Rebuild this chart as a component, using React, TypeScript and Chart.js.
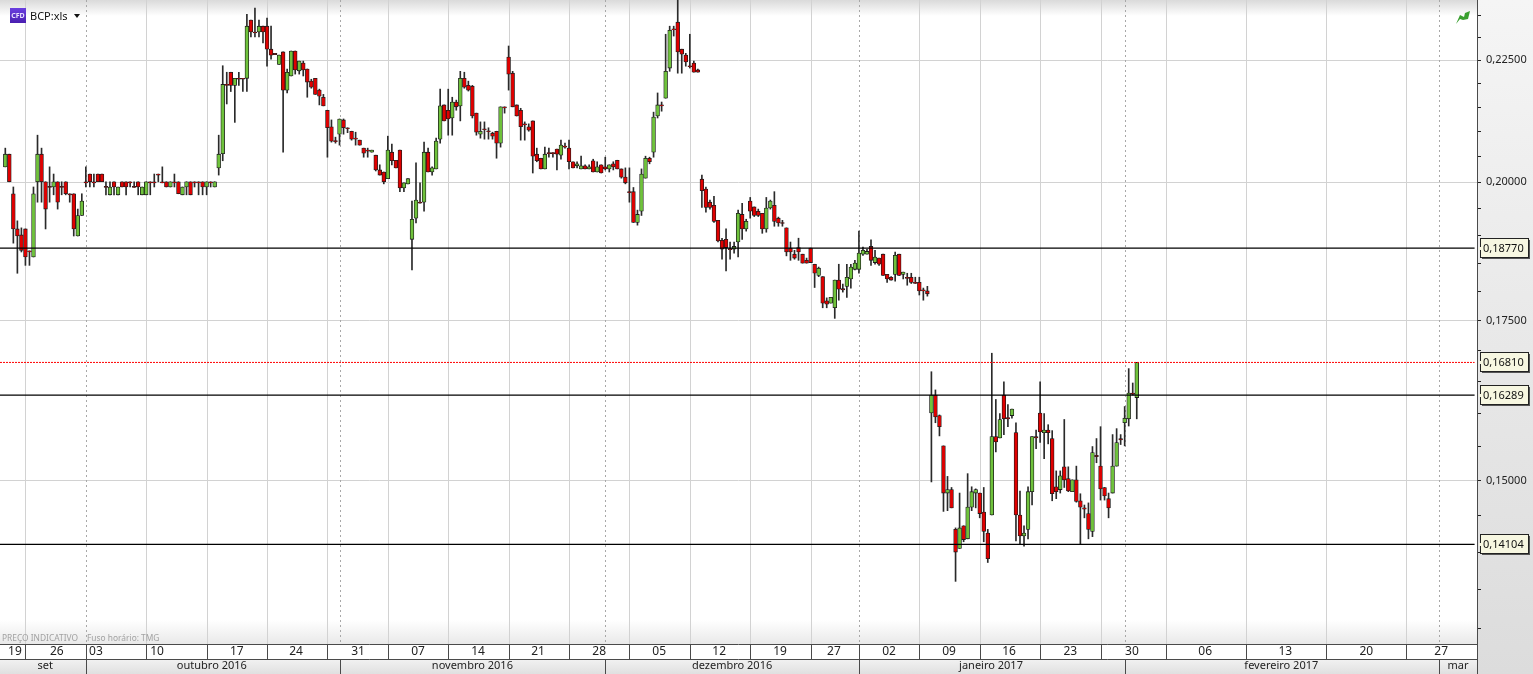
import React, { useEffect, useRef } from "react";
import { Chart, registerables } from "chart.js";

Chart.register(...registerables);

// Prices are in ten-thousandths (2000 = 0,2000).
const opens = [
  2030,2055,1978,1912,1901,1912,1872,1861,2001,2055,
  2001,1992,1991,2001,1992,2001,1978,1978,1899,1937,
  2001,2016,2001,2016,2016,1992,1976,2001,1976,2001,
  2001,2001,1992,2001,1976,1976,2001,2001,2016,2001,
  2001,1991,2001,2001,1976,1991,2001,2001,2001,2001,
  1991,2001,1991,2028,2056,2198,2224,2196,2211,2211,
  2211,2339,2312,2312,2325,2325,2274,2265,2241,2268,
  2186,2216,2270,2227,2244,2231,2205,2211,2186,2171,
  2144,2110,2082,2095,2124,2108,2101,2087,2083,2067,
  2063,2059,2053,2024,2020,2007,2059,2043,2063,1989,
  1997,1893,1932,1962,1962,2059,2020,2026,2085,2155,
  2144,2128,2161,2153,2211,2196,2194,2138,2095,2106,
  2102,2097,2101,2077,2151,2257,2222,2155,2144,2116,
  2110,2122,2055,2047,2026,2058,2058,2065,2053,2071,
  2067,2040,2032,2026,2032,2026,2042,2020,2034,2030,
  2026,2036,2043,2026,2010,1982,1982,1924,1945,2008,
  2047,2059,2132,2155,2169,2233,2319,2334,2274,2261,
  2238,2244,2229,2006,1987,1962,1956,1928,1891,1893,
  1876,1875,1888,1939,1912,1964,1953,1945,1941,1912,
  1951,1956,1932,1924,1914,1877,1866,1878,1866,1855,
  1877,1848,1828,1826,1784,1780,1772,1820,1805,1809,
  1822,1839,1839,1866,1866,1880,1851,1859,1866,1830,
  1825,1830,1866,1830,1825,1825,1816,1816,1803,1801,
  1601,1629,1597,1551,1482,1487,1431,1405,1436,1418,
  1462,1482,1482,1455,1426,1451,1565,1563,1629,1594,
  1597,1571,1451,1422,1431,1484,1565,1601,1571,1575,
  1562,1491,1487,1520,1503,1484,1501,1471,1461,1453,
  1428,1537,1521,1490,1474,1482,1521,1562,1586,1592,1632,1625,
];
const closes = [
  2055,2001,1912,1899,1873,1861,1870,1978,2055,2001,
  1949,1990,2001,1962,1990,1978,1976,1912,1937,1964,
  1999,2001,1999,2001,2001,1990,1991,1991,1991,1991,
  1991,1999,1990,1991,1991,2001,1999,1999,2014,1999,
  1991,2001,1999,1978,1991,2001,1976,1999,1999,1991,
  2001,1999,2001,2055,2198,2196,2196,2211,2209,2209,
  2325,2312,2310,2325,2312,2274,2261,2262,2261,2186,
  2224,2270,2229,2248,2229,2203,2192,2177,2173,2153,
  2108,2081,2080,2126,2108,2106,2085,2085,2073,2057,
  2061,2063,2024,2014,2001,2063,2042,2028,1989,1999,
  2007,1930,1966,1960,2059,2020,2028,2081,2153,2122,
  2126,2161,2151,2211,2192,2186,2132,2099,2101,2104,
  2100,2091,2077,2151,2149,2220,2151,2132,2110,2114,
  2103,2051,2042,2026,2055,2056,2056,2055,2073,2069,
  2040,2028,2036,2032,2026,2030,2020,2030,2018,2026,
  2034,2030,2026,2010,1999,1980,1924,1939,2016,2047,
  2040,2130,2155,2153,2226,2316,2317,2268,2263,2246,
  2236,2224,2224,1984,1952,1952,1926,1890,1875,1878,
  1874,1880,1941,1912,1926,1945,1937,1937,1912,1951,
  1964,1926,1923,1922,1870,1870,1859,1870,1850,1850,
  1851,1832,1841,1780,1778,1790,1820,1804,1803,1825,
  1843,1850,1868,1873,1871,1855,1861,1848,1828,1822,
  1820,1864,1828,1834,1823,1816,1814,1801,1801,1796,
  1629,1595,1580,1482,1487,1461,1400,1433,1417,1462,
  1484,1487,1453,1428,1391,1565,1557,1591,1592,1592,
  1607,1451,1422,1426,1484,1565,1563,1572,1575,1571,
  1481,1484,1507,1501,1485,1501,1470,1462,1459,1431,
  1541,1535,1488,1478,1461,1521,1556,1560,1593,1632,1630,1681,
];
const highs = [
  2067,2055,1991,1927,1914,1912,1872,1991,2093,2067,
  2001,2030,2016,2001,2001,2001,1978,1978,1949,1978,
  2030,2016,2016,2016,2016,2001,2001,2001,1991,2001,
  2001,2001,2001,2001,1991,2001,2001,2016,2016,2030,
  2001,2001,2016,2001,1991,2001,2001,2001,2001,2001,
  2001,2001,2001,2093,2238,2224,2224,2211,2224,2211,
  2352,2339,2366,2339,2325,2343,2325,2265,2261,2268,
  2231,2270,2270,2248,2248,2231,2209,2211,2188,2177,
  2144,2124,2089,2126,2126,2108,2101,2099,2083,2067,
  2067,2063,2053,2034,2020,2091,2075,2043,2063,1999,
  2007,1964,2038,1999,2079,2067,2030,2087,2188,2155,
  2188,2171,2165,2226,2224,2205,2196,2138,2120,2120,
  2108,2099,2101,2151,2151,2281,2226,2155,2148,2120,
  2116,2122,2067,2047,2069,2067,2058,2065,2083,2077,
  2083,2040,2040,2051,2034,2034,2045,2040,2034,2049,
  2034,2040,2043,2026,2028,2028,1990,1947,2026,2051,
  2049,2140,2180,2161,2307,2325,2325,2384,2274,2265,
  2307,2248,2231,2014,1991,1966,1973,1928,1895,1912,
  1888,1888,1947,1960,1930,1971,1953,1949,1941,1971,
  1966,1982,1934,1928,1914,1888,1873,1895,1866,1859,
  1877,1848,1843,1826,1789,1790,1820,1848,1813,1848,
  1848,1855,1908,1879,1875,1892,1873,1859,1866,1830,
  1826,1870,1866,1834,1832,1832,1825,1825,1806,1809,
  1666,1637,1598,1551,1506,1490,1433,1482,1436,1510,
  1491,1488,1482,1490,1431,1696,1622,1600,1650,1614,
  1607,1586,1485,1436,1491,1565,1575,1650,1600,1583,
  1574,1514,1514,1591,1520,1501,1521,1481,1465,1468,
  1550,1562,1580,1490,1482,1568,1577,1568,1611,1671,1648,1681,
];
const lows = [
  2030,2001,1886,1832,1870,1846,1846,1861,1962,1962,
  1912,1962,1976,1949,1976,1976,1962,1899,1899,1937,
  1991,1991,1991,2001,2001,1976,1976,1976,1976,1991,
  1976,1991,1990,1976,1976,1976,1976,1991,2001,1999,
  1991,1991,1991,1978,1976,1976,1976,1991,1976,1976,
  1976,1991,1991,2014,2042,2157,2183,2119,2196,2183,
  2183,2301,2301,2301,2288,2237,2252,2262,2241,2059,
  2180,2216,2220,2220,2216,2171,2190,2177,2155,2153,
  2049,2079,2077,2073,2095,2098,2083,2073,2073,2049,
  2049,2059,2022,2014,1997,2007,2034,2028,1982,1982,
  1997,1838,1923,1960,1945,2020,2014,2026,2077,2122,
  2093,2093,2144,2122,2190,2184,2128,2093,2087,2085,
  2085,2085,2047,2069,2138,2186,2151,2132,2083,2083,
  2101,2018,2040,2026,2026,2049,2049,2024,2045,2067,
  2026,2028,2028,2026,2026,2026,2020,2020,2018,2024,
  2020,2024,2026,2008,1997,1962,1924,1919,1937,2008,
  2036,2049,2128,2142,2169,2226,2303,2222,2222,2237,
  2233,2224,2224,1952,1943,1949,1924,1888,1857,1836,
  1857,1868,1861,1893,1908,1932,1935,1935,1904,1906,
  1949,1917,1917,1917,1863,1855,1857,1855,1850,1850,
  1851,1807,1826,1772,1772,1780,1754,1785,1799,1790,
  1806,1838,1832,1864,1866,1846,1848,1846,1828,1816,
  1820,1818,1828,1822,1811,1814,1814,1794,1785,1792,
  1498,1586,1566,1456,1457,1461,1361,1405,1414,1418,
  1457,1461,1447,1414,1386,1451,1542,1563,1568,1580,
  1593,1415,1411,1408,1418,1465,1547,1556,1532,1554,
  1471,1474,1482,1490,1484,1484,1469,1411,1447,1418,
  1421,1526,1472,1472,1447,1482,1521,1553,1551,1581,1629,1592,
];

const PRICE_UNIT = 0.0001;
const lastCandle = 281;

const blackLevels = [0.1877, 0.16289, 0.14104];
const lastPrice = 0.1681;
const yTicks = [0.13,0.135,0.14,0.145,0.15,0.155,0.16,0.165,0.17,0.175,0.18,0.185,0.19,0.195,0.2,0.205,0.21,0.215,0.22,0.225,0.23,0.235];

// candle slots where the week and month cells begin
const weekStarts = [5,20,35,50,65,80,95,110,125,140,155,170,185,200,212,227,242,257,272,288.3,308.2,328,347.9];
const monthStarts = [20,83,149,212,278,356];

const weekLabels = ["19","26","03","10","17","24","31","07","14","21","28","05","12","19","27","02","09","16","23","30","06","13","20","27"];
const weekLabelSlots = [2.4,12.8,22.5,37.7,57.5,72.2,87.6,102.5,117.4,132.3,147.5,162.4,177.3,192.4,205.8,219.5,234.4,249.3,264.5,279.8,298,317.9,338,356.6];
const monthLabels = ["set","outubro 2016","novembro 2016","dezembro 2016","janeiro 2017","fevereiro 2017","mar"];
const monthLabelSlots = [9.9,51.3,116,180.5,244.8,316.9,360.8];

const X_MIN = -1.316;
const X_MAX = 365.5;
const Y_MIN = 0.12812;
const Y_MAX = 0.23845;

const FONT = '"Noto Sans", sans-serif';
const isLabelled = (v: number) => Math.abs(v / 0.025 - Math.round(v / 0.025)) < 1e-6;
const fmt = (v: number) => v.toFixed(5).replace(".", ",");

const decor = {
  id: "decor",
  beforeDraw(chart: any) {
    const { ctx, chartArea: a, width, height } = chart;
    ctx.save();
    let g = ctx.createLinearGradient(0, 0, 0, height);
    g.addColorStop(0, "#f5f5f5");
    g.addColorStop(1, "#dcdcdc");
    ctx.fillStyle = g;
    ctx.fillRect(a.right, 0, width - a.right, height);
    ctx.fillStyle = "#ffffff";
    ctx.fillRect(0, 0, a.right, height);
    g = ctx.createLinearGradient(0, 0, 0, 16);
    g.addColorStop(0, "#dadada");
    g.addColorStop(1, "#ffffff");
    ctx.fillStyle = g;
    ctx.fillRect(0, 0, a.right, 16);
    g = ctx.createLinearGradient(0, 620, 0, a.bottom);
    g.addColorStop(0, "#ffffff");
    g.addColorStop(1, "#e9e9e9");
    ctx.fillStyle = g;
    ctx.fillRect(0, 620, a.right, a.bottom - 620);
    g = ctx.createLinearGradient(0, 659, 0, height);
    g.addColorStop(0, "#f2f2f2");
    g.addColorStop(1, "#e0e0e0");
    ctx.fillStyle = g;
    ctx.fillRect(0, 659, a.right, height - 659);
    ctx.restore();
  },
  beforeDatasetsDraw(chart: any) {
    const { ctx, chartArea: a, scales } = chart;
    ctx.save();
    ctx.lineWidth = 1;
    ctx.strokeStyle = "#d2d2d2";
    for (const s of weekStarts) {
      if (monthStarts.includes(s)) continue;
      const x = Math.round(scales.x.getPixelForValue(s)) + 0.5;
      ctx.beginPath();
      ctx.moveTo(x, a.top);
      ctx.lineTo(x, a.bottom);
      ctx.stroke();
    }
    ctx.strokeStyle = "#a8a8a8";
    ctx.setLineDash([2, 3]);
    for (const s of monthStarts) {
      const x = Math.round(scales.x.getPixelForValue(s)) + 0.5;
      ctx.beginPath();
      ctx.moveTo(x, a.top);
      ctx.lineTo(x, a.bottom);
      ctx.stroke();
    }
    ctx.restore();
  },
  afterDraw(chart: any) {
    const { ctx, chartArea: a, scales, height } = chart;
    ctx.save();
    // axis frame
    ctx.strokeStyle = "#4a4a4a";
    ctx.lineWidth = 1;
    const hLine = (y: number) => {
      ctx.beginPath();
      ctx.moveTo(0, y);
      ctx.lineTo(a.right, y);
      ctx.stroke();
    };
    hLine(644.5);
    hLine(659.5);
    ctx.beginPath();
    ctx.moveTo(a.right + 0.5, 0);
    ctx.lineTo(a.right + 0.5, height);
    ctx.stroke();
    for (const s of weekStarts) {
      const x = Math.round(scales.x.getPixelForValue(s)) + 0.5;
      ctx.beginPath();
      ctx.moveTo(x, 644);
      ctx.lineTo(x, 659);
      ctx.stroke();
    }
    for (const s of monthStarts) {
      const x = Math.round(scales.x.getPixelForValue(s)) + 0.5;
      ctx.beginPath();
      ctx.moveTo(x, 659);
      ctx.lineTo(x, height);
      ctx.stroke();
    }
    // disclaimers
    ctx.fillStyle = "#a2a2a2";
    ctx.font = `8.4px ${FONT}`;
    ctx.textBaseline = "middle";
    ctx.fillText("PREÇO INDICATIVO", 2, 638.5);
    ctx.fillText("Fuso horário: TMG", 87, 638.5);
    // instrument tag
    const g = ctx.createLinearGradient(0, 8, 0, 23);
    g.addColorStop(0, "#6a3fe0");
    g.addColorStop(1, "#4a1fb0");
    ctx.fillStyle = g;
    ctx.fillRect(10, 8, 16, 15);
    ctx.fillStyle = "#e8e0ff";
    ctx.font = `bold 7px ${FONT}`;
    ctx.textAlign = "center";
    ctx.fillText("CFD", 18, 15.5);
    ctx.textAlign = "left";
    ctx.fillStyle = "#111111";
    ctx.font = `11px ${FONT}`;
    ctx.fillText("BCP:xls", 30, 16.5);
    ctx.beginPath();
    ctx.moveTo(74, 14);
    ctx.lineTo(80, 14);
    ctx.lineTo(77, 18);
    ctx.closePath();
    ctx.fill();
    // trend arrow
    ctx.fillStyle = "#3aa030";
    ctx.beginPath();
    ctx.moveTo(1456, 24);
    ctx.lineTo(1460, 15);
    ctx.lineTo(1464, 17);
    ctx.lineTo(1465, 13);
    ctx.lineTo(1470, 11);
    ctx.lineTo(1468, 19);
    ctx.lineTo(1463, 20);
    ctx.lineTo(1460, 19);
    ctx.closePath();
    ctx.fill();
    // level tags
    const tags = [...blackLevels, lastPrice];
    for (const v of tags) {
      const y = Math.round(scales.y.getPixelForValue(v));
      ctx.fillStyle = "#555555";
      ctx.fillRect(1482, y - 8, 48, 19);
      ctx.fillStyle = "#f7f7e1";
      ctx.fillRect(1480.5, y - 9.5, 48, 19);
      ctx.strokeStyle = "#222222";
      ctx.lineWidth = 1;
      ctx.strokeRect(1480.5, y - 9.5, 48, 19);
      ctx.fillStyle = "#f7f7e1";
      ctx.fillRect(1479, y - 1, 2, 3);
      ctx.fillStyle = "#111111";
      ctx.font = `11px ${FONT}`;
      ctx.textAlign = "left";
      ctx.textBaseline = "middle";
      ctx.fillText(fmt(v), 1483, y + 0.5);
    }
    ctx.restore();
  },
};

const noPad = (s: any) => {
  s.paddingLeft = 0;
  s.paddingRight = 0;
  s.paddingTop = 0;
  s.paddingBottom = 0;
};

export default function App() {
  const ref = useRef<HTMLCanvasElement | null>(null);
  useEffect(() => {
    if (!ref.current) return;
    const slots = opens.map((_, i) => i).filter((i) => i <= lastCandle);
    const wicks = slots.map((i) => ({ x: i, y: [lows[i] * PRICE_UNIT, highs[i] * PRICE_UNIT] }));
    const bodies = slots.map((i) => ({ x: i, y: [opens[i] * PRICE_UNIT, closes[i] * PRICE_UNIT] }));
    const bodyColors = slots.map((i) => (closes[i] > opens[i] ? "#6fc23c" : "#e00000"));
    const levelLine = (v: number, color: string, dash: number[], width: number) => ({
      type: "line",
      data: [{ x: X_MIN, y: v }, { x: 364.9, y: v }],
      borderColor: color,
      borderWidth: width,
      borderDash: dash,
      pointRadius: 0,
      order: 0,
    });
    const chart = new Chart(ref.current, {
      type: "bar",
      data: {
        datasets: [
          ...blackLevels.map((v) => levelLine(v, "#000000", [], 1.3)),
          levelLine(lastPrice, "#ff0000", [2, 1], 1),
          {
            type: "bar",
            data: bodies,
            backgroundColor: bodyColors,
            borderColor: "#1c1c1c",
            borderWidth: 0.8,
            borderSkipped: false,
            barThickness: 3.8,
            grouped: false,
            order: 1,
          },
          {
            type: "bar",
            data: wicks,
            backgroundColor: "#2a2a2a",
            borderWidth: 0,
            barThickness: 1,
            grouped: false,
            order: 2,
          },
        ] as any,
      },
      options: {
        responsive: false,
        animation: false,
        devicePixelRatio: 1,
        events: [],
        layout: { padding: 0, autoPadding: false },
        plugins: { legend: { display: false }, tooltip: { enabled: false }, title: { display: false } },
        scales: {
          x: {
            type: "linear",
            position: "bottom",
            weight: 0,
            min: X_MIN,
            max: X_MAX,
            offset: false,
            grid: { display: false, offset: false, drawTicks: false, tickLength: 0 },
            border: { display: false },
            afterBuildTicks: (s: any) => {
              s.ticks = weekLabelSlots.map((value) => ({ value }));
            },
            afterFit: (s: any) => {
              s.height = 15;
              noPad(s);
            },
            ticks: {
              autoSkip: false,
              maxRotation: 0,
              minRotation: 0,
              padding: 0,
              color: "#222222",
              font: { family: FONT, size: 12 },
              callback: (_v: any, i: number) => weekLabels[i],
            },
          },
          x2: {
            type: "linear",
            position: "bottom",
            weight: 1,
            min: X_MIN,
            max: X_MAX,
            offset: false,
            grid: { display: false, offset: false, drawTicks: false, tickLength: 0 },
            border: { display: false },
            afterBuildTicks: (s: any) => {
              s.ticks = monthLabelSlots.map((value) => ({ value }));
            },
            afterFit: (s: any) => {
              s.height = 15;
              noPad(s);
            },
            ticks: {
              autoSkip: false,
              maxRotation: 0,
              minRotation: 0,
              padding: 0,
              color: "#222222",
              font: { family: FONT, size: 11 },
              callback: (_v: any, i: number) => monthLabels[i],
            },
          },
          y: {
            type: "logarithmic",
            position: "right",
            min: Y_MIN,
            max: Y_MAX,
            bounds: "data",
            border: { display: false },
            grid: {
              color: (c: any) => (c.tick && isLabelled(c.tick.value) ? "#d2d2d2" : "rgba(0,0,0,0)"),
              tickColor: "#222222",
              tickLength: 4,
              lineWidth: 1,
            },
            afterBuildTicks: (s: any) => {
              s.ticks = yTicks.map((value) => ({ value }));
            },
            afterFit: (s: any) => {
              s.width = 56;
              noPad(s);
            },
            ticks: {
              autoSkip: false,
              major: { enabled: false },
              padding: 5,
              color: "#222222",
              font: { family: FONT, size: 11 },
              callback: (v: any) => (isLabelled(Number(v)) ? fmt(Number(v)) : ""),
            },
          },
        },
      } as any,
      plugins: [decor],
    } as any);
    return () => chart.destroy();
  }, []);
  return (
    <div style={{ position: "fixed", left: 0, top: 0, width: 1533, height: 674, background: "#fff" }}>
      <canvas ref={ref} width={1533} height={674} style={{ display: "block" }} />
    </div>
  );
}
